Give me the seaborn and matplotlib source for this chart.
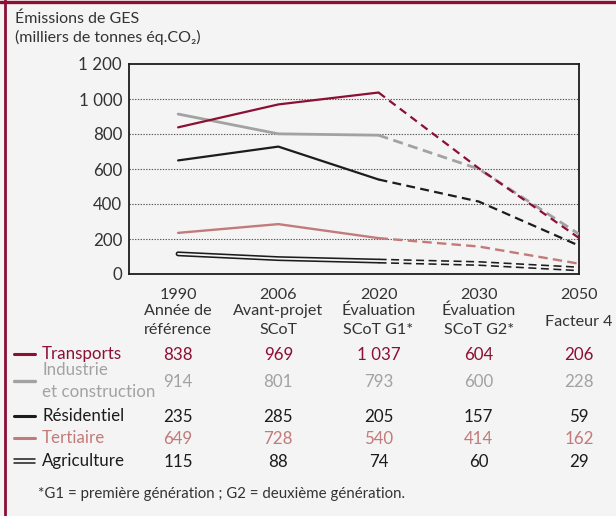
import matplotlib
matplotlib.use("Agg")
import matplotlib.pyplot as plt
import seaborn as sns
import numpy as np
from matplotlib.lines import Line2D
from matplotlib.transforms import blended_transform_factory

# ---- data ----
years = ["1990", "2006", "2020", "2030", "2050"]
desc_line1 = ["Année de", "Avant-projet", "Évaluation", "Évaluation", ""]
desc_line2 = ["référence", "SCoT", "SCoT G1*", "SCoT G2*", ""]
desc_single = ["", "", "", "", "Facteur 4"]

transports = [838, 969, 1037, 604, 206]
industrie = [914, 801, 793, 600, 228]
black_line = [649, 728, 540, 414, 162]
pink_line = [235, 285, 205, 157, 59]
agriculture = [115, 88, 74, 60, 29]

row_labels = ["Transports", "Industrie\net construction", "Résidentiel", "Tertiaire", "Agriculture"]
row_values = [
    ["838", "969", "1 037", "604", "206"],
    ["914", "801", "793", "600", "228"],
    ["235", "285", "205", "157", "59"],
    ["649", "728", "540", "414", "162"],
    ["115", "88", "74", "60", "29"],
]
yticks = [0, 200, 400, 600, 800, 1000, 1200]
ytick_labels = ["0", "200", "400", "600", "800", "1 000", "1 200"]

# ---- style ----
BG = "#f4f4f4"
MAROON = "#8c0f34"
GRAY = "#a2a2a2"
BLACK = "#1c1c1c"
PINK = "#c27a7a"
TXT = "#333333"
FS = 12.2
FSD = 11.6

sns.set_style("white")
plt.rcParams["font.family"] = ["Lato", "DejaVu Sans"]

W, H = 616, 516
fig = plt.figure(figsize=(W / 100, H / 100), dpi=100, facecolor=BG)
ax = fig.add_axes([129 / W, 1 - 274 / H, (579 - 129) / W, (274 - 64) / H])
ax.set_facecolor(BG)

pos = np.arange(len(years))

def draw(vals, color, lw, dashes, z):
    sns.lineplot(x=pos[:3], y=vals[:3], ax=ax, color=color, lw=lw, zorder=z)
    l = sns.lineplot(x=pos[2:], y=vals[2:], ax=ax, color=color, lw=lw, zorder=z)
    l.lines[-1].set_dashes(dashes)

# agriculture double line: thick black + inner background stroke
draw(agriculture, BLACK, 3.6, (1.6, 0.9), 2)
sns.lineplot(x=pos, y=agriculture, ax=ax, color=BG, lw=1.3, zorder=2.5)
draw(pink_line, PINK, 1.7, (4, 2.2), 3)
draw(black_line, BLACK, 1.6, (4, 2.4), 4)
draw(industrie, GRAY, 2.0, (3.6, 2.0), 5)
draw(transports, MAROON, 1.6, (3.6, 2.4), 6)

ax.set_xlim(-0.49, 4)
ax.set_ylim(0, 1200)
for yv in yticks[1:-1]:
    ax.axhline(yv, color="#555555", lw=0.8, ls=(0, (1.2, 1.3)), zorder=1)

ax.set_yticks(yticks, labels=ytick_labels)
ax.set_xticks(pos, labels=years)
ax.tick_params(axis="y", length=0, pad=5, labelsize=FS, labelcolor=TXT)
ax.tick_params(axis="x", length=5, width=1, color=TXT, pad=5, labelsize=FSD, labelcolor=TXT, direction="out")
ax.xaxis.get_major_ticks()[-1].tick1line.set_visible(False)
for s in ax.spines.values():
    s.set_color(BLACK)
    s.set_linewidth(1.3)
ax.set_xlabel("")
ax.set_ylabel("")

# descriptions under ticks
bt = blended_transform_factory(ax.transData, fig.transFigure)
def fy(py):
    return 1 - py / H
for i in range(len(years)):
    if desc_line1[i]:
        ax.text(i, fy(311), desc_line1[i], transform=bt, ha="center", va="center", fontsize=FSD, color=TXT)
        ax.text(i, fy(330), desc_line2[i], transform=bt, ha="center", va="center", fontsize=FSD, color=TXT)
    if desc_single[i]:
        ax.text(i, fy(322), desc_single[i], transform=bt, ha="center", va="center", fontsize=FSD, color=TXT)

# title
fig.text(15 / W, fy(19), "Émissions de GES", ha="left", va="center", fontsize=11.5, color=TXT)
fig.text(15 / W, fy(37), "(milliers de tonnes éq.CO₂)", ha="left", va="center", fontsize=11.5, color=TXT)

# table / legend rows
row_colors = [MAROON, GRAY, BLACK, PINK, BLACK]
row_y = [354, 381, 416, 438, 461]
for r, (lab, vals, c, yy) in enumerate(zip(row_labels, row_values, row_colors, row_y)):
    if r == 4:
        fig.add_artist(Line2D([14 / W, 35 / W], [fy(yy - 1.7), fy(yy - 1.7)], color=BLACK, lw=1.1))
        fig.add_artist(Line2D([14 / W, 35 / W], [fy(yy + 1.7), fy(yy + 1.7)], color=BLACK, lw=1.1))
    else:
        fig.add_artist(Line2D([14 / W, 35 / W], [fy(yy), fy(yy)], color=c, lw=2.2 if r != 1 else 2.4))
    fig.text(42 / W, fy(yy), lab, ha="left", va="center", fontsize=FS, color=c, linespacing=1.4)
    for i, v in enumerate(vals):
        ax.text(i, fy(yy + 1), v, transform=bt, ha="center", va="center", fontsize=FS, color=c)

fig.text(38 / W, fy(494), "*G1 = première génération ; G2 = deuxième génération.", ha="left", va="center",
         fontsize=10.8, color=TXT)

# frame: maroon top and left bars
fig.add_artist(Line2D([0, 1], [1 - 1.5 / H, 1 - 1.5 / H], color=MAROON, lw=2.4))
fig.add_artist(Line2D([4.5 / W, 4.5 / W], [0, 1], color=MAROON, lw=2.0))

fig.savefig("out.png", dpi=100, facecolor=BG)
